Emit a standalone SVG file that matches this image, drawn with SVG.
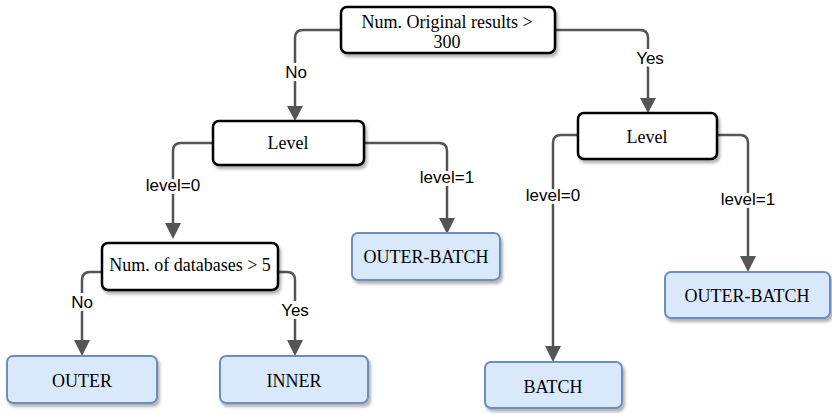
<svg xmlns="http://www.w3.org/2000/svg" width="832" height="414" viewBox="0 0 832 414">
<defs>
<filter id="sh" x="-10%" y="-10%" width="130%" height="140%">
<feDropShadow dx="2" dy="3" stdDeviation="1.5" flood-color="#000" flood-opacity="0.3"/>
</filter>
<style>
.dec{fill:#fff;stroke:#000;stroke-width:2.5;filter:url(#sh)}
.leaf{fill:#dae8fc;stroke:#6c8ebf;stroke-width:2;filter:url(#sh)}
.nt{font-family:"Liberation Serif",serif;font-size:18px;fill:#000;text-anchor:middle}
.c{fill:none;stroke:#555;stroke-width:2.5}
.ah{fill:#555}
.lb{font-family:"Liberation Sans",Arial,sans-serif;font-size:17px;fill:#000;text-anchor:middle;paint-order:stroke;stroke:#fff;stroke-width:6px}
</style>
</defs>
<g id="connectors">
<path class="c" d="M341,30 H303 Q295,30 295,38 V108"/>
<polygon class="ah" points="287,106 303,106 295,121"/>
<path class="c" d="M555,30 H640 Q648,30 648,38 V100"/>
<polygon class="ah" points="640,98 656,98 648,113"/>
<path class="c" d="M213,143 H181 Q173,143 173,151 V225"/>
<polygon class="ah" points="165,223 181,223 173,239"/>
<path class="c" d="M364,143 H439 Q447,143 447,151 V220"/>
<polygon class="ah" points="439,218 455,218 447,234"/>
<path class="c" d="M578,135 H561 Q553,135 553,143 V348"/>
<polygon class="ah" points="545,346 561,346 553,362"/>
<path class="c" d="M717,135 H740 Q748,135 748,143 V258"/>
<polygon class="ah" points="740,256 756,256 748,272"/>
<path class="c" d="M102,272 H90 Q82,272 82,280 V342"/>
<polygon class="ah" points="74,340 90,340 82,356"/>
<path class="c" d="M278,272 H287 Q295,272 295,280 V342"/>
<polygon class="ah" points="287,340 303,340 295,356"/>
<text class="lb" x="296" y="78">No</text>
<text class="lb" x="650" y="64">Yes</text>
<text class="lb" x="173" y="191">level=0</text>
<text class="lb" x="447" y="183">level=1</text>
<text class="lb" x="553" y="201">level=0</text>
<text class="lb" x="748" y="205">level=1</text>
<text class="lb" x="82" y="308">No</text>
<text class="lb" x="295" y="316">Yes</text>
</g>
<g id="n-root">
<rect class="dec" x="341" y="7" width="214" height="46" rx="6"/>
<text class="nt" x="447" y="28">Num. Original results &gt;</text>
<text class="nt" x="447" y="48">300</text>
</g>
<g id="n-level-left">
<rect class="dec" x="213" y="121" width="151" height="44" rx="6"/>
<text class="nt" x="288" y="149">Level</text>
</g>
<g id="n-level-right">
<rect class="dec" x="578" y="113" width="139" height="46" rx="6"/>
<text class="nt" x="647" y="143">Level</text>
</g>
<g id="n-databases">
<rect class="dec" x="102" y="243" width="176" height="47" rx="6"/>
<text class="nt" x="190" y="271">Num. of databases &gt; 5</text>
</g>
<g id="n-outer-batch-left">
<rect class="leaf" x="352" y="233" width="148" height="47" rx="6"/>
<text class="nt" x="426" y="263">OUTER-BATCH</text>
</g>
<g id="n-outer-batch-right">
<rect class="leaf" x="665" y="272" width="165" height="46" rx="6"/>
<text class="nt" x="747" y="302">OUTER-BATCH</text>
</g>
<g id="n-batch">
<rect class="leaf" x="485" y="362" width="137" height="46" rx="6"/>
<text class="nt" x="553" y="393">BATCH</text>
</g>
<g id="n-outer">
<rect class="leaf" x="7" y="356" width="150" height="47" rx="6"/>
<text class="nt" x="82" y="387">OUTER</text>
</g>
<g id="n-inner">
<rect class="leaf" x="220" y="356" width="148" height="47" rx="6"/>
<text class="nt" x="294" y="387">INNER</text>
</g>
</svg>
